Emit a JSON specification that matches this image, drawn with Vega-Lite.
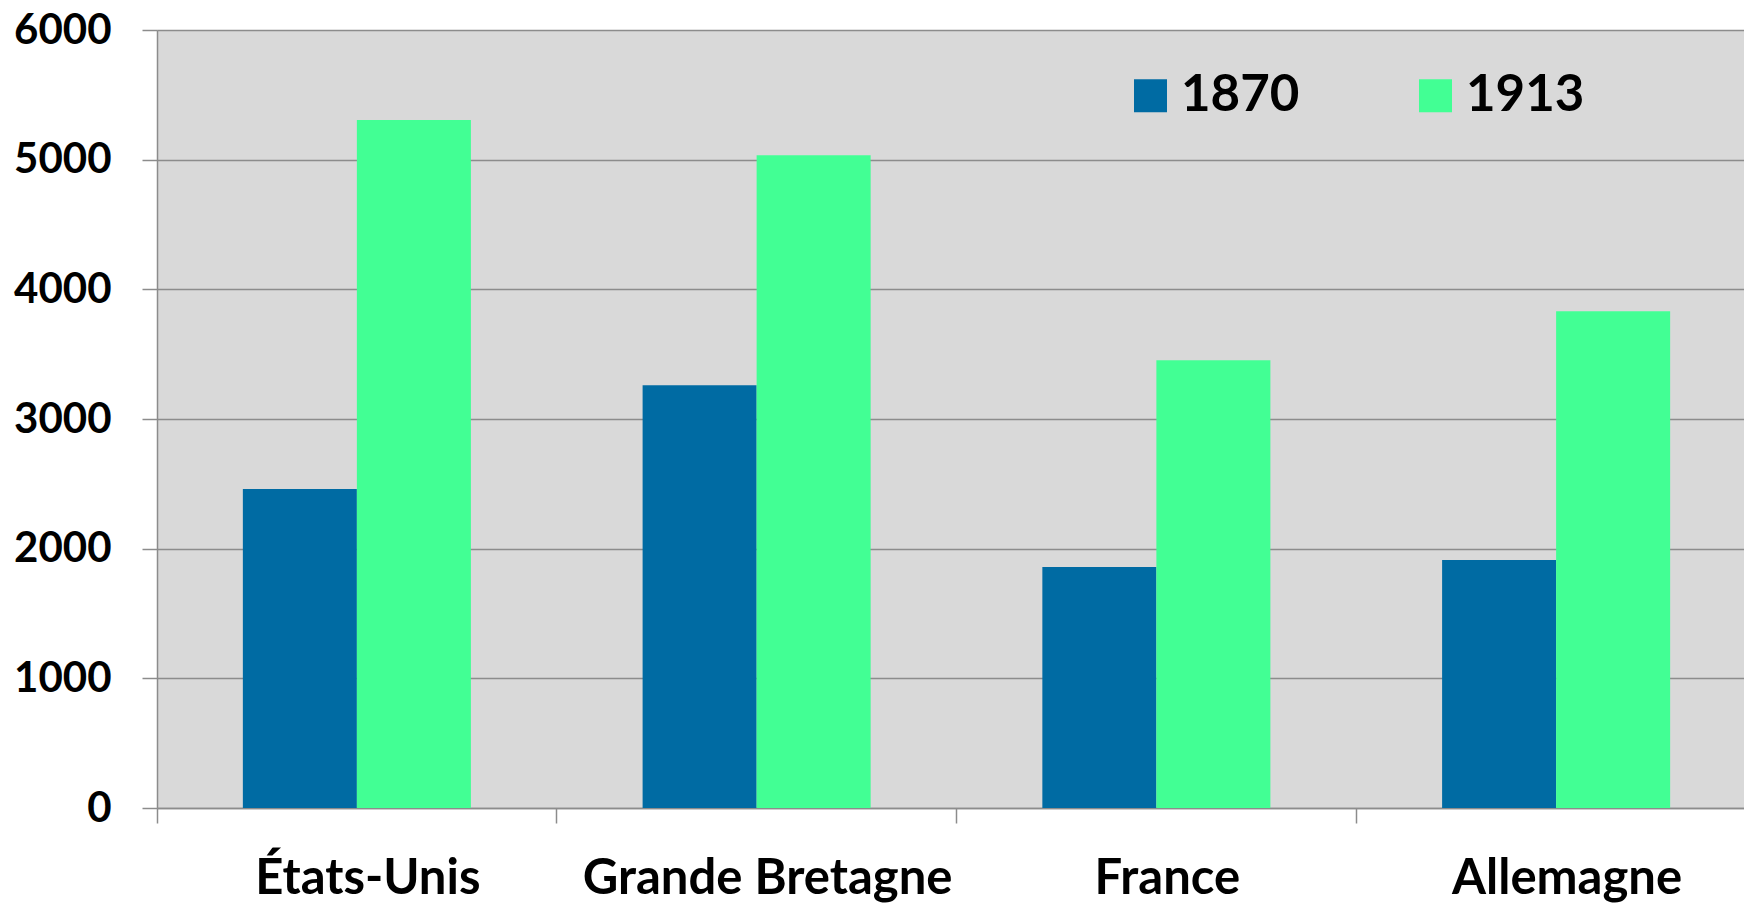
{
  "$schema": "https://vega.github.io/schema/vega-lite/v6.json",
  "autosize": {"type": "none"},
  "padding": {"left": 157, "top": 30, "right": 0, "bottom": 95},
  "width": 1587,
  "height": 778,
  "background": "white",
  "data": {"values": [
    {"pays": "États-Unis", "annee": "1870", "valeur": 2460},
    {"pays": "États-Unis", "annee": "1913", "valeur": 5305},
    {"pays": "Grande Bretagne", "annee": "1870", "valeur": 3260},
    {"pays": "Grande Bretagne", "annee": "1913", "valeur": 5035},
    {"pays": "France", "annee": "1870", "valeur": 1858},
    {"pays": "France", "annee": "1913", "valeur": 3454},
    {"pays": "Allemagne", "annee": "1870", "valeur": 1912},
    {"pays": "Allemagne", "annee": "1913", "valeur": 3831}
  ]},
  "mark": {"type": "bar", "stroke": null},
  "encoding": {
    "x": {
      "field": "pays", "type": "nominal", "sort": null,
      "scale": {"paddingInner": 0, "paddingOuter": 0, "range": [0, 1599]},
      "axis": {
        "title": null, "bandPosition": 0, "labelAngle": 0,
        "labelOffset": 11, "labelBaseline": "alphabetic", "labelPadding": 70, "labelLimit": 600,
        "labelFont": "Lato", "labelFontWeight": "bold", "labelFontSize": 49, "labelColor": "#000000",
        "tickSize": 15, "tickColor": "#8c8c8c", "tickWidth": 1.5,
        "domainColor": "#8c8c8c", "domainWidth": 1.5, "grid": false
      }
    },
    "xOffset": {
      "field": "annee", "type": "nominal",
      "scale": {"paddingInner": 0, "paddingOuter": 0.753}
    },
    "y": {
      "field": "valeur", "type": "quantitative",
      "scale": {"domain": [0, 6000], "nice": false},
      "axis": {
        "title": null, "values": [0, 1000, 2000, 3000, 4000, 5000, 6000], "format": "d",
        "labelFont": "Lato", "labelFontWeight": "bold", "labelFontSize": 42, "labelColor": "#000000",
        "labelPadding": 31, "labelBaseline": "middle",
        "tickSize": 15, "tickColor": "#8c8c8c", "tickWidth": 1.5,
        "domainColor": "#8c8c8c", "domainWidth": 1.5,
        "grid": true, "gridColor": "#8c8c8c", "gridWidth": 1.5
      }
    },
    "color": {
      "field": "annee", "type": "nominal",
      "scale": {"domain": ["1870", "1913"], "range": ["#006BA3", "#42FF94"]},
      "legend": {
        "title": null, "orient": "none", "direction": "horizontal",
        "legendX": 968, "legendY": 40, "padding": 0,
        "symbolType": "square", "symbolSize": 1089, "symbolStrokeWidth": 0, "symbolOpacity": 1,
        "labelFont": "Lato", "labelFontWeight": "bold", "labelFontSize": 51, "labelColor": "#000000",
        "labelOffset": 5, "columnPadding": 110
      }
    }
  },
  "config": {
    "view": {"fill": "#D9D9D9", "stroke": null}
  }
}
